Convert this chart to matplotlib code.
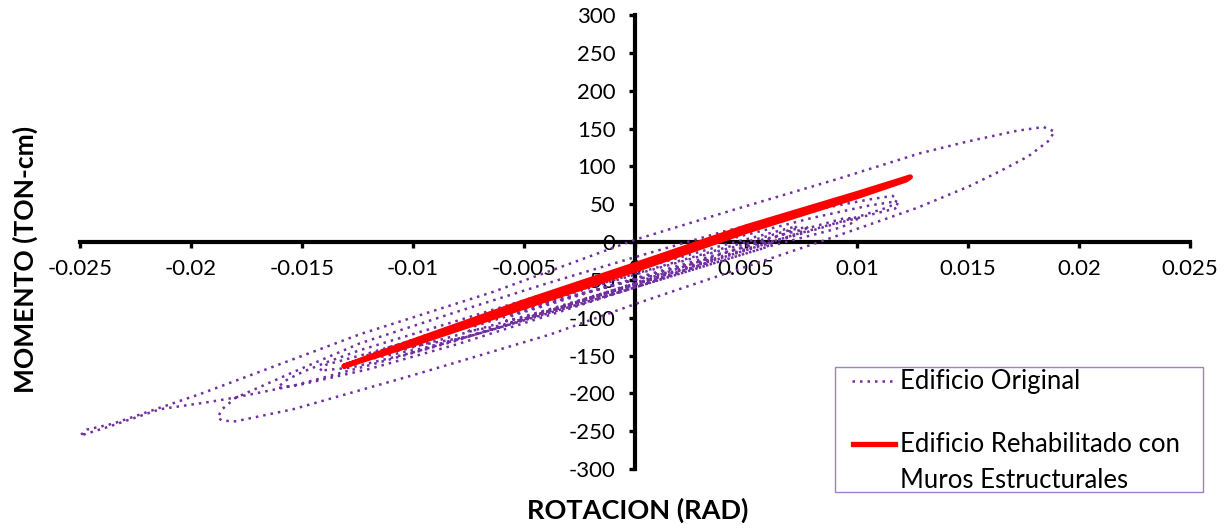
import matplotlib
matplotlib.use("Agg")
import matplotlib.pyplot as plt
from matplotlib.lines import Line2D
from matplotlib.patches import Rectangle

plt.rcParams['font.family'] = ['Lato', 'DejaVu Sans']

# Axis ticks
x_ticks = [-0.025, -0.02, -0.015, -0.01, -0.005, 0, 0.005, 0.01, 0.015, 0.02, 0.025]
x_tick_labels = ["-0.025", "-0.02", "-0.015", "-0.01", "-0.005", "0",
                 "0.005", "0.01", "0.015", "0.02", "0.025"]
y_ticks = [300, 250, 200, 150, 100, 50, 0, -50, -100, -150, -200, -250, -300]
y_tick_labels = [str(v) for v in y_ticks]

# Original building: rotation (rad) / moment (ton-cm) history, branch by branch
original_rot = [
    0.0, 0.0015,
    0.0012, -0.002, -0.005, -0.0058,
    -0.0055, -0.002, 0.002, 0.0035,
    0.0032, 0.001, -0.003, -0.006, -0.0075,
    -0.0072, -0.004, 0.0, 0.004, 0.0058, 0.0062,
    0.0058, 0.004, 0.0, -0.004, -0.0075, -0.0100,
    -0.0097, -0.008, -0.004, 0.0, 0.004, 0.008, 0.0095, 0.0100,
    0.0097, 0.009, 0.006, 0.002, -0.002, -0.006, -0.0095, -0.0125,
    -0.0121, -0.008, -0.004, 0.0, 0.004, 0.0065, 0.0073,
    0.0071, 0.0065, 0.004, 0.0, -0.004, -0.008, -0.012, -0.0154, -0.0181,
    -0.0191, -0.0214, -0.0237, -0.0250,
    -0.0247, -0.0235, -0.0196, -0.0124, -0.0064, 0.0, 0.0046, 0.0092,
    0.0128, 0.0150, 0.0172, 0.0184, 0.0189,
    0.0186, 0.0177, 0.0164, 0.0150, 0.0127, 0.0083, 0.0, -0.0038, -0.0100,
    -0.0154, -0.0180, -0.0186, -0.0188,
    -0.0186, -0.0180, -0.0154, -0.0124, -0.008, -0.004, 0.0, 0.004, 0.008,
    0.0105, 0.0116, 0.0118,
    0.0117, 0.0112, 0.010, 0.007, 0.004, 0.0, -0.004, -0.008, -0.012,
    -0.0150, -0.0161,
    -0.0158, -0.0150, -0.0139, -0.0124, -0.008, -0.004, 0.0, 0.004, 0.008,
    0.0105, 0.0116, 0.0119,
    0.0117, 0.011, 0.009, 0.006, 0.002, -0.002, -0.006, -0.010, -0.0128,
    -0.0142,
    -0.0139, -0.012, -0.008, -0.004, 0.0, 0.004, 0.007, 0.0078,
    0.0075, 0.007, 0.004, 0.0, -0.004, -0.008, -0.0105, -0.0115,
    -0.0112, -0.008, -0.004, 0.0,
]
original_mom = [
    -50, -40,
    -45, -74, -100, -104,
    -97, -66, -33, -22,
    -28, -48, -84, -110, -118,
    -111, -82, -48, -14, 0, -2,
    -8, -24, -60, -95, -125, -138,
    -131, -114, -78, -43, -10, 20, 32, 30,
    24, 17, -6, -42, -78, -112, -140, -158,
    -150, -109, -72, -37, -4, 15, 21,
    16, 8, -15, -54, -92, -130, -163, -190, -206,
    -211, -221, -244, -256,
    -248, -240, -201, -122, -66, 3, 44, 84,
    117, 133, 147, 152, 146,
    133, 113, 93, 73, 45, 0, -82, -122, -176,
    -221, -237, -236, -232,
    -221, -206, -172, -134, -92, -55, -20, 14, 42,
    56, 61, 57,
    50, 44, 33, 8, -20, -60, -98, -135, -168,
    -188, -193,
    -184, -172, -159, -143, -104, -68, -32, 2, 32,
    48, 53, 49,
    44, 39, 24, -2, -38, -74, -112, -146, -166,
    -170,
    -162, -147, -112, -76, -42, -8, 16, 20,
    14, 8, -18, -55, -90, -123, -143, -147,
    -140, -114, -80, -50,
]

# Retrofitted building with structural walls
retrofit_rot = [-0.0131, -0.010, -0.005, 0.0, 0.005, 0.010, 0.0124,
                0.0122, 0.010, 0.005, 0.0, -0.005, -0.010, -0.0131]
retrofit_mom = [-164, -131, -79, -30, 20, 64, 86,
                82, 60, 14, -37, -86, -135, -164]

purple = "#7030A0"
red = "#FF0000"
dotted = (0, (1, 2))

fig = plt.figure(figsize=(12.29, 5.29), dpi=100)
ax = fig.add_axes([0.0651, 0.1134, 0.9032, 0.8582])

ax.plot(original_rot, original_mom, color=purple, lw=1.8,
        linestyle=dotted, dash_capstyle='butt', zorder=3)
ax.plot(retrofit_rot, retrofit_mom, color=red, lw=3.8,
        solid_capstyle='round', solid_joinstyle='round', zorder=4)

ax.set_xlim(-0.025, 0.025)
ax.set_ylim(-300, 300)

for side in ('top', 'right'):
    ax.spines[side].set_visible(False)
ax.spines['left'].set_position(('data', 0))
ax.spines['bottom'].set_position(('data', 0))
for side in ('left', 'bottom'):
    ax.spines[side].set_linewidth(3.0)
    ax.spines[side].set_color('black')
    ax.spines[side].set_zorder(2)

ax.set_xticks(x_ticks)
ax.set_xticklabels(x_tick_labels)
ax.set_yticks(y_ticks)
ax.set_yticklabels(y_tick_labels)
ax.tick_params(axis='x', direction='out', length=4, width=2.4, pad=8,
               labelsize=16, colors='black')
ax.tick_params(axis='y', direction='out', length=4, width=2.4, pad=10,
               labelsize=16, colors='black')
ax.set_facecolor('none')

fig.text(0.519, 0.035, "ROTACION (RAD)", ha='center', va='center',
         fontsize=19.5, fontweight='bold')
fig.text(0.021, 0.51, "MOMENTO (TON-cm)", ha='center', va='center',
         rotation=90, fontsize=19, fontweight='bold')

# Legend box drawn in figure pixels
W, H = 1229.0, 529.0
def fx(px):
    return px / W
def fy(py):
    return 1.0 - py / H

fig.add_artist(Rectangle((fx(835), fy(492)), fx(1203) - fx(835), fy(367) - fy(492),
                         transform=fig.transFigure, facecolor='white',
                         edgecolor="#A080C8", lw=1.0, zorder=5))
fig.add_artist(Line2D([fx(852), fx(892)], [fy(381), fy(381)],
                      transform=fig.transFigure, color=purple, lw=1.8,
                      linestyle=dotted, dash_capstyle='butt', zorder=6))
fig.add_artist(Line2D([fx(853), fx(895)], [fy(444), fy(444)],
                      transform=fig.transFigure, color=red, lw=3.8, zorder=6))
legend_font = 18.5
fig.text(fx(900), fy(381), "Edificio Original", ha='left', va='center',
         fontsize=legend_font, zorder=7)
fig.text(fx(900), fy(444), "Edificio Rehabilitado con", ha='left', va='center',
         fontsize=legend_font, zorder=7)
fig.text(fx(900), fy(480), "Muros Estructurales", ha='left', va='center',
         fontsize=legend_font, zorder=7)

fig.savefig("out.png", dpi=100)
